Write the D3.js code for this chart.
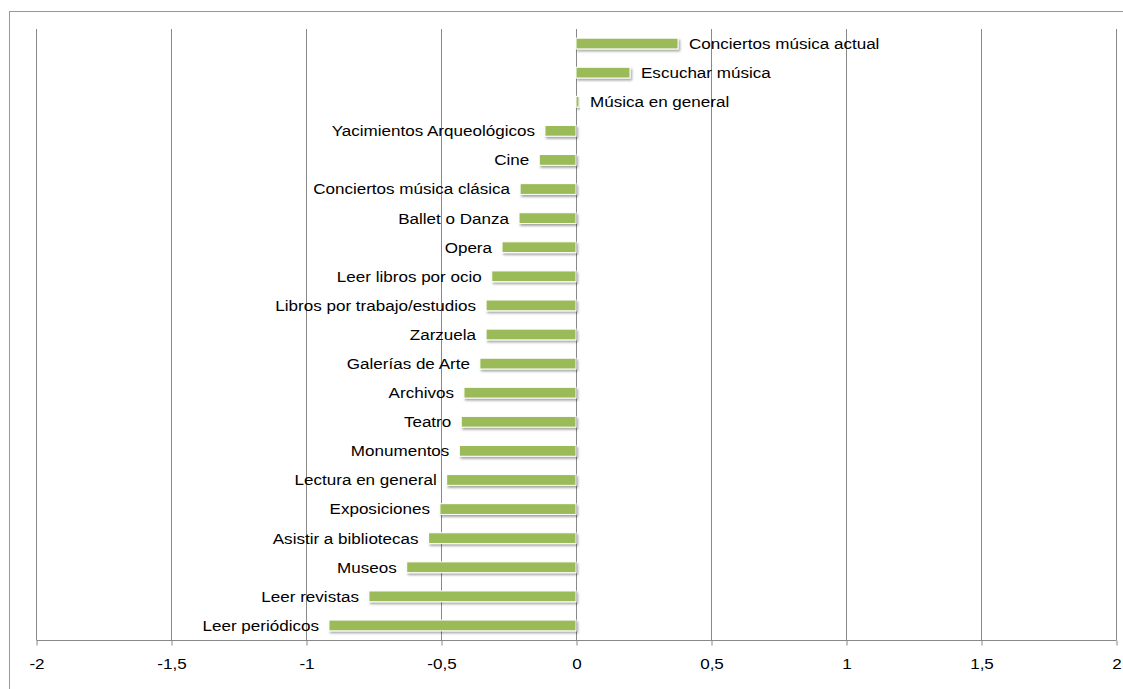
<!DOCTYPE html>
<html>
<head>
<meta charset="utf-8">
<script src="https://cdn.jsdelivr.net/npm/d3@7/dist/d3.min.js"></script>
<style>
  html, body { margin: 0; padding: 0; background: #fff; }
  svg { display: block; font-family: "Liberation Sans", Arial, sans-serif; }
</style>
</head>
<body>
<svg id="chart" width="1123" height="689"></svg>
<script>
// Activities, listed top to bottom
const categories = [
  "Conciertos música actual",
  "Escuchar música",
  "Música en general",
  "Yacimientos Arqueológicos",
  "Cine",
  "Conciertos música clásica",
  "Ballet o Danza",
  "Opera",
  "Leer libros por ocio",
  "Libros por trabajo/estudios",
  "Zarzuela",
  "Galerías de Arte",
  "Archivos",
  "Teatro",
  "Monumentos",
  "Lectura en general",
  "Exposiciones",
  "Asistir a bibliotecas",
  "Museos",
  "Leer revistas",
  "Leer periódicos"
];
const values = [
  0.378, 0.200, 0.011, -0.115, -0.136, -0.207, -0.211, -0.274, -0.312, -0.333,
  -0.333, -0.356, -0.415, -0.425, -0.432, -0.479, -0.504, -0.546, -0.627, -0.767, -0.915
];
const tickValues = [-2, -1.5, -1, -0.5, 0, 0.5, 1, 1.5, 2];
const tickLabels = ["-2", "-1,5", "-1", "-0,5", "0", "0,5", "1", "1,5", "2"];

const data = categories.map((c, i) => ({ name: c, value: values[i] }));

const svg = d3.select("#chart");
const plot = { left: 36, right: 1116, top: 29, bottom: 640 };
const fontSize = 15.5;
const stretch = 1.1; // text is set slightly wide

const x = d3.scaleLinear().domain([-2, 2]).range([plot.left, plot.right]);
const y = d3.scaleBand().domain(categories).range([plot.top, plot.bottom]).paddingInner(0.63).paddingOuter(0.315);

// drop shadow for bars
const defs = svg.append("defs");
const f = defs.append("filter").attr("id", "shadow")
  .attr("x", "-10%").attr("y", "-50%").attr("width", "130%").attr("height", "220%");
f.append("feDropShadow").attr("dx", 1.5).attr("dy", 2).attr("stdDeviation", 1.2)
  .attr("flood-color", "#000").attr("flood-opacity", 0.35);

// outer frame
svg.append("rect")
  .attr("x", 9.5).attr("y", 11.5).attr("width", 1200).attr("height", 800)
  .attr("fill", "none").attr("stroke", "#999").attr("stroke-width", 1);

// vertical gridlines
svg.append("g").selectAll("line").data(tickValues).join("line")
  .attr("x1", d => Math.round(x(d)) + 0.5).attr("x2", d => Math.round(x(d)) + 0.5)
  .attr("y1", plot.top).attr("y2", plot.bottom)
  .attr("stroke", "#888").attr("stroke-width", 1);

// horizontal axis with ticks
const axis = d3.axisBottom(x).tickValues(tickValues)
  .tickFormat((d, i) => tickLabels[i]).tickSize(5).tickPadding(12);
const gx = svg.append("g").attr("transform", `translate(0.5,${plot.bottom + 0.5})`).call(axis);
gx.select(".domain").attr("stroke", "#888").attr("d", `M${plot.left},0H${plot.right}`);
gx.selectAll(".tick line").attr("stroke", "#888");
gx.selectAll(".tick text").attr("fill", "#000").style("font-size", fontSize + "px")
  .style("font-family", '"Liberation Sans", Arial, sans-serif')
  .attr("transform", `scale(${stretch},1)`)
  .attr("x", 0);

// bars
svg.append("g").selectAll("rect").data(data).join("rect")
  .attr("x", d => x(Math.min(0, d.value)))
  .attr("y", d => y(d.name))
  .attr("width", d => Math.abs(x(d.value) - x(0)))
  .attr("height", y.bandwidth())
  .attr("fill", "#9BBB59")
  .attr("stroke", "#fff").attr("stroke-width", 1)
  .attr("filter", "url(#shadow)");

// category labels at the outer end of each bar
svg.append("g").selectAll("text").data(data).join("text")
  .attr("transform", d => {
    const tx = d.value >= 0 ? x(d.value) + 11 : x(d.value) - 10;
    const ty = y(d.name) + y.bandwidth() / 2;
    return `translate(${tx},${ty}) scale(${stretch},1)`;
  })
  .attr("dy", "0.35em")
  .attr("text-anchor", d => d.value >= 0 ? "start" : "end")
  .style("font-size", fontSize + "px")
  .attr("fill", "#000")
  .text(d => d.name);
</script>
</body>
</html>
